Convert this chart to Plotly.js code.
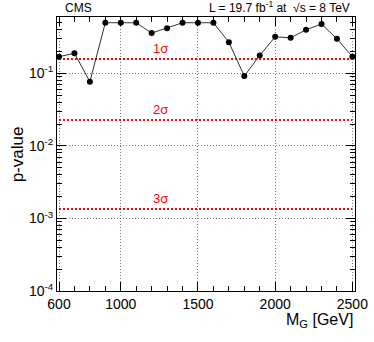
<!DOCTYPE html>
<html>
<head>
<script src="https://cdn.plot.ly/plotly-3.0.1.min.js"></script>
<style>body{margin:0;} #plot{width:374px;height:342px;}</style>
</head>
<body>
<div id="plot"></div>
<script>
// graviton mass points and local p-values
var mass = [600, 700, 800, 900, 1000, 1100, 1200, 1300, 1400, 1500,
            1600, 1700, 1800, 1900, 2000, 2100, 2200, 2300, 2400, 2500];
var pval = [0.17, 0.19, 0.077, 0.5, 0.5, 0.5, 0.36, 0.42, 0.5, 0.5,
            0.5, 0.27, 0.092, 0.177, 0.32, 0.31, 0.40, 0.48, 0.30, 0.17];

// significance reference lines
var sigmaNames = ["1σ", "2σ", "3σ"];
var sigmaP = [0.1587, 0.02275, 0.00135];
var sigmaRange = [600, 2500];

var yTicks = [1e-4, 1e-3, 1e-2, 1e-1];
var yTickText = ["10<sup>-4</sup>", "10<sup>-3</sup>", "10<sup>-2</sup>", "10<sup>-1</sup>"];

// minor log ticks 2..9 in each decade
var yMinor = [];
yTicks.forEach(function (d) {
  for (var k = 2; k <= 9; k++) yMinor.push(d * k);
});

var traces = [];
sigmaP.forEach(function (p) {
  traces.push({
    x: sigmaRange, y: [p, p], mode: "lines", type: "scatter",
    line: {color: "#ff0000", width: 2, dash: "2px,2px"}, hoverinfo: "skip"
  });
});
traces.push({
  x: mass, y: pval, mode: "lines+markers", type: "scatter",
  line: {color: "#333", width: 1},
  marker: {color: "black", size: 6}
});

var annotations = sigmaNames.map(function (s, i) {
  return {x: 1255, y: Math.log10(sigmaP[i]), text: s, showarrow: false,
          yanchor: "bottom", yshift: 1, font: {color: "#ff0000", size: 13}};
});
annotations.push({xref: "paper", yref: "paper", x: 0.02, y: 1, yanchor: "bottom",
  xanchor: "left", text: "CMS", showarrow: false, font: {size: 12}});
annotations.push({xref: "paper", yref: "paper", x: 0.99, y: 1, yanchor: "bottom",
  xanchor: "right", text: "L = 19.7 fb<sup>-1</sup> at  √s = 8 TeV", showarrow: false,
  font: {size: 12}});
annotations.push({xref: "paper", yref: "paper", x: 1.0, y: -0.065, yanchor: "top",
  xanchor: "right", text: "M<sub>G</sub> [GeV]", showarrow: false, font: {size: 16}});
annotations.push({xref: "paper", yref: "paper", x: -0.133, y: 0.5, xanchor: "center",
  text: "p-value", textangle: -90, showarrow: false, font: {size: 17}});

var layout = {
  width: 374, height: 342,
  margin: {l: 57, r: 19, t: 17, b: 51},
  showlegend: false,
  paper_bgcolor: "white", plot_bgcolor: "white",
  font: {family: "Liberation Sans, Arial, sans-serif", color: "black"},
  xaxis: {
    range: [587, 2517],
    tickvals: [600, 1000, 1500, 2000, 2500],
    ticks: "inside", ticklen: 9, tickcolor: "black",
    showline: true, linecolor: "black", linewidth: 1, mirror: "allticks",
    showgrid: true, gridcolor: "#777", griddash: "1px,2px", gridwidth: 1,
    zeroline: false, tickfont: {size: 14},
    minor: {dtick: 100, ticks: "inside", ticklen: 5, tickcolor: "black", showgrid: false}
  },
  yaxis: {
    type: "log", range: [-4, Math.log10(0.6)],
    tickvals: yTicks, ticktext: yTickText,
    ticks: "inside", ticklen: 9, tickcolor: "black",
    showline: true, linecolor: "black", linewidth: 1, mirror: "allticks",
    showgrid: true, gridcolor: "#777", griddash: "1px,2px", gridwidth: 1,
    zeroline: false, tickfont: {size: 14},
    minor: {tickvals: yMinor, ticks: "inside", ticklen: 5, tickcolor: "black", showgrid: false}
  },
  annotations: annotations
};

Plotly.newPlot("plot", traces, layout, {displayModeBar: false, staticPlot: true});
</script>
</body>
</html>
